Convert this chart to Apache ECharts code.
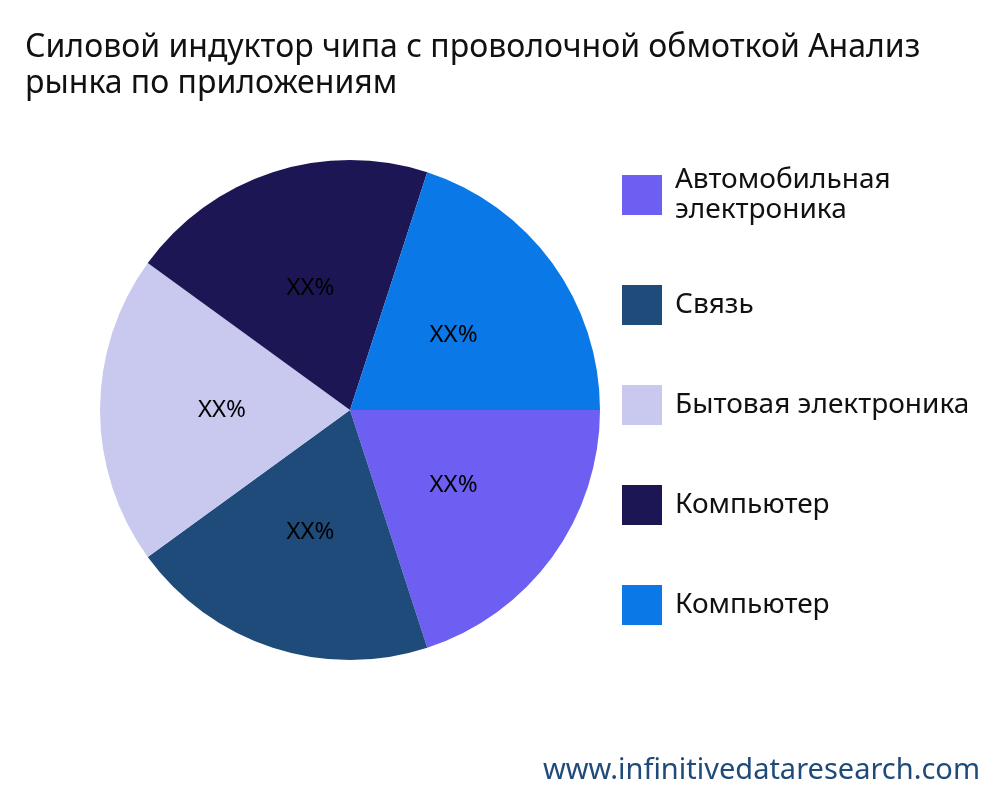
<!DOCTYPE html>
<html><head><meta charset="utf-8">
<script src="https://cdn.jsdelivr.net/npm/echarts@6/dist/echarts.min.js"></script>
<style>html,body{margin:0;padding:0;background:#fff}#chart{width:1000px;height:800px}</style>
</head><body><div id="chart"></div>
<script>
const categories = ['Автомобильная\nэлектроника', 'Связь', 'Бытовая электроника', 'Компьютер', 'Компьютер '];
const values = [20, 20, 20, 20, 20];
const colors = ['#6c5ff2', '#1f4b7a', '#c9c9f0', '#1c1754', '#0a78e6'];

const chart = echarts.init(document.getElementById('chart'));
chart.setOption({
  color: colors,
  textStyle: { fontFamily: 'Noto Sans' },
  title: {
    text: 'Силовой индуктор чипа с проволочной обмоткой Анализ\nрынка по приложениям',
    left: 20, top: 25,
    textStyle: { fontSize: 32, fontWeight: 'normal', color: '#111', lineHeight: 36, fontFamily: 'Noto Sans' }
  },
  legend: {
    orient: 'vertical', left: 617, top: 160,
    itemWidth: 40, itemHeight: 40, itemGap: 60,
    icon: 'rect',
    data: categories,
    textStyle: { fontSize: 28, color: '#111', lineHeight: 30, padding: [0, 0, 0, 8] }
  },
  graphic: [{
    type: 'text', right: 20, bottom: 15,
    style: { text: 'www.infinitivedataresearch.com', fontSize: 29, fill: '#1f4b7a', fontFamily: 'Noto Sans' }
  }],
  series: [{
    type: 'pie',
    center: [350, 410], radius: 250,
    startAngle: 0, clockwise: true,
    label: { position: 'inside', formatter: 'XX%', fontSize: 24, color: '#000' },
    labelLine: { show: false },
    emphasis: { disabled: true },
    data: categories.map((n, i) => ({ name: n, value: values[i] }))
  }]
});
</script></body></html>
